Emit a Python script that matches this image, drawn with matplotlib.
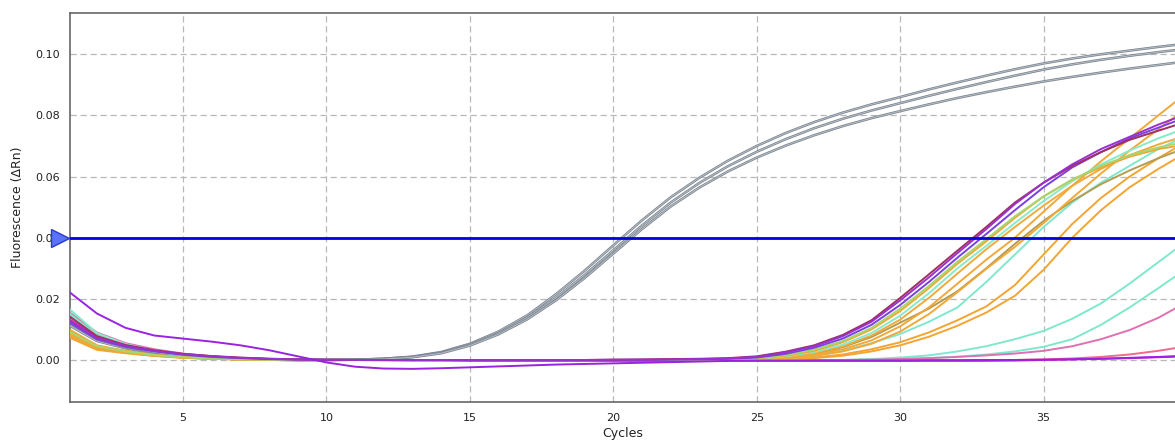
import numpy as np
import matplotlib
matplotlib.use("Agg")
import matplotlib.pyplot as plt
import matplotlib.transforms as mtransforms

# cycle numbers
cycles = np.arange(1, 41)

# grey (early) amplification curves
grey_a = [0.0115, 0.0062, 0.0038, 0.0022, 0.0012, 0.0006, 0.0003, 0.0001, 0.0, 0.0,
          0.0001, 0.0004, 0.0011, 0.0026, 0.0053, 0.0093, 0.0146, 0.0215, 0.0292, 0.0375,
          0.0457, 0.0532, 0.0596, 0.0652, 0.0700, 0.0742, 0.0778, 0.0809, 0.0836, 0.0860,
          0.0885, 0.0908, 0.0930, 0.0951, 0.0970, 0.0986, 0.1000, 0.1012, 0.1024, 0.1035]
grey_b = [0.0125, 0.0068, 0.0041, 0.0024, 0.0013, 0.0007, 0.0003, 0.0001, 0.0, 0.0,
          0.0001, 0.0004, 0.0010, 0.0024, 0.0050, 0.0088, 0.0139, 0.0203, 0.0278, 0.0359,
          0.0440, 0.0515, 0.0579, 0.0634, 0.0681, 0.0722, 0.0758, 0.0789, 0.0816, 0.0840,
          0.0864, 0.0887, 0.0909, 0.0930, 0.0950, 0.0967, 0.0982, 0.0995, 0.1007, 0.1018]
grey_c = [0.0135, 0.0072, 0.0044, 0.0026, 0.0014, 0.0007, 0.0003, 0.0001, 0.0, 0.0,
          0.0001, 0.0003, 0.0009, 0.0022, 0.0047, 0.0084, 0.0133, 0.0195, 0.0268, 0.0348,
          0.0428, 0.0502, 0.0564, 0.0617, 0.0662, 0.0701, 0.0735, 0.0765, 0.0791, 0.0814,
          0.0836, 0.0857, 0.0876, 0.0894, 0.0911, 0.0926, 0.0940, 0.0953, 0.0965, 0.0977]

# late curves
purple_1 = [0.0130, 0.0072, 0.0046, 0.0030, 0.0019, 0.0012, 0.0007, 0.0004, 0.0002, 0.0001,
            0.0, 0.0, 0.0, 0.0, 0.0, 0.0, 0.0, 0.0, 0.0, 0.0001,
            0.0001, 0.0002, 0.0003, 0.0005, 0.0010, 0.0025, 0.0045, 0.0078, 0.0125, 0.0195,
            0.0270, 0.0350, 0.0428, 0.0510, 0.0580, 0.0640, 0.0690, 0.0730, 0.0770, 0.0805]
maroon_1 = [0.0145, 0.0078, 0.0049, 0.0032, 0.0020, 0.0013, 0.0008, 0.0004, 0.0002, 0.0001,
            0.0, 0.0, 0.0, 0.0, 0.0, 0.0, 0.0, 0.0, 0.0, 0.0001,
            0.0002, 0.0003, 0.0004, 0.0006, 0.0012, 0.0027, 0.0048, 0.0082, 0.0130, 0.0203,
            0.0280, 0.0358, 0.0435, 0.0515, 0.0580, 0.0635, 0.0680, 0.0720, 0.0750, 0.0780]
violet_1 = [0.0125, 0.0068, 0.0043, 0.0028, 0.0017, 0.0010, 0.0006, 0.0003, 0.0001, 0.0,
            0.0, 0.0, 0.0, 0.0, 0.0, 0.0, 0.0, 0.0, 0.0, 0.0,
            0.0, 0.0001, 0.0002, 0.0004, 0.0008, 0.0020, 0.0040, 0.0070, 0.0115, 0.0180,
            0.0255, 0.0335, 0.0412, 0.0490, 0.0565, 0.0630, 0.0680, 0.0725, 0.0760, 0.0795]
green_1 = [0.0095, 0.0045, 0.0028, 0.0016, 0.0009, 0.0005, 0.0002, 0.0001, 0.0, 0.0,
           0.0, 0.0, 0.0, 0.0, 0.0, 0.0, 0.0, 0.0, 0.0, 0.0,
           0.0, 0.0, 0.0001, 0.0002, 0.0006, 0.0016, 0.0034, 0.0062, 0.0105, 0.0168,
           0.0242, 0.0322, 0.0395, 0.0470, 0.0535, 0.0590, 0.0635, 0.0670, 0.0695, 0.0715]
orange_1 = [0.0080, 0.0036, 0.0024, 0.0014, 0.0008, 0.0004, 0.0002, 0.0001, 0.0, 0.0,
            0.0, 0.0, 0.0, 0.0, 0.0, 0.0, 0.0, 0.0, 0.0, 0.0,
            0.0, 0.0, 0.0001, 0.0002, 0.0005, 0.0014, 0.0030, 0.0058, 0.0100, 0.0160,
            0.0235, 0.0315, 0.0388, 0.0465, 0.0535, 0.0590, 0.0630, 0.0665, 0.0690, 0.0705]
aqua_1 = [0.0170, 0.0088, 0.0052, 0.0031, 0.0018, 0.0010, 0.0005, 0.0002, 0.0001, 0.0,
          0.0, 0.0, 0.0, 0.0, 0.0, 0.0, 0.0, 0.0, 0.0, 0.0,
          0.0, 0.0, 0.0001, 0.0002, 0.0004, 0.0012, 0.0026, 0.0050, 0.0088, 0.0145,
          0.0218, 0.0300, 0.0373, 0.0448, 0.0520, 0.0585, 0.0640, 0.0685, 0.0725, 0.0760]
orange_2 = [0.0088, 0.0040, 0.0026, 0.0015, 0.0008, 0.0004, 0.0002, 0.0001, 0.0, 0.0,
            0.0, 0.0, 0.0, 0.0, 0.0, 0.0, 0.0, 0.0, 0.0, 0.0,
            0.0, 0.0, 0.0, 0.0001, 0.0003, 0.0010, 0.0023, 0.0045, 0.0080, 0.0132,
            0.0203, 0.0283, 0.0362, 0.0435, 0.0505, 0.0570, 0.0625, 0.0670, 0.0705, 0.0735]
orange_3 = [0.0075, 0.0033, 0.0022, 0.0013, 0.0007, 0.0004, 0.0002, 0.0001, 0.0, 0.0,
            0.0, 0.0, 0.0, 0.0, 0.0, 0.0, 0.0, 0.0, 0.0, 0.0,
            0.0, 0.0, 0.0, 0.0001, 0.0002, 0.0007, 0.0017, 0.0035, 0.0064, 0.0110,
            0.0172, 0.0250, 0.0328, 0.0400, 0.0485, 0.0570, 0.0650, 0.0725, 0.0800, 0.0875]
orange_4 = [0.0102, 0.0048, 0.0030, 0.0017, 0.0009, 0.0005, 0.0002, 0.0001, 0.0, 0.0,
            0.0, 0.0, 0.0, 0.0, 0.0, 0.0, 0.0, 0.0, 0.0, 0.0,
            0.0, 0.0, 0.0, 0.0, 0.0001, 0.0005, 0.0013, 0.0028, 0.0053, 0.0093,
            0.0150, 0.0222, 0.0298, 0.0370, 0.0448, 0.0530, 0.0610, 0.0685, 0.0755, 0.0825]
olive_1 = [0.0098, 0.0046, 0.0029, 0.0017, 0.0009, 0.0005, 0.0002, 0.0001, 0.0, 0.0,
           0.0, 0.0, 0.0, 0.0, 0.0, 0.0, 0.0, 0.0, 0.0, 0.0,
           0.0, 0.0, 0.0, 0.0001, 0.0003, 0.0009, 0.0020, 0.0042, 0.0075, 0.0122,
           0.0168, 0.0225, 0.0300, 0.0380, 0.0455, 0.0520, 0.0575, 0.0620, 0.0660, 0.0695]
aqua_2 = [0.0155, 0.0080, 0.0048, 0.0029, 0.0017, 0.0009, 0.0004, 0.0002, 0.0001, 0.0,
          0.0, 0.0, 0.0, 0.0, 0.0, 0.0, 0.0, 0.0, 0.0, 0.0,
          0.0, 0.0, 0.0, 0.0, 0.0001, 0.0005, 0.0013, 0.0030, 0.0055, 0.0085,
          0.0125, 0.0172, 0.0255, 0.0345, 0.0435, 0.0515, 0.0580, 0.0635, 0.0690, 0.0735]
orange_5 = [0.0090, 0.0041, 0.0026, 0.0015, 0.0008, 0.0004, 0.0002, 0.0001, 0.0, 0.0,
            0.0, 0.0, 0.0, 0.0, 0.0, 0.0, 0.0, 0.0, 0.0, 0.0,
            0.0, 0.0, 0.0, 0.0, 0.0, 0.0003, 0.0008, 0.0018, 0.0035, 0.0058,
            0.0090, 0.0130, 0.0175, 0.0245, 0.0345, 0.0445, 0.0530, 0.0600, 0.0660, 0.0715]
orange_6 = [0.0082, 0.0037, 0.0024, 0.0014, 0.0008, 0.0004, 0.0002, 0.0001, 0.0, 0.0,
            0.0, 0.0, 0.0, 0.0, 0.0, 0.0, 0.0, 0.0, 0.0, 0.0,
            0.0, 0.0, 0.0, 0.0, 0.0, 0.0002, 0.0006, 0.0014, 0.0028, 0.0048,
            0.0076, 0.0112, 0.0155, 0.0210, 0.0295, 0.0400, 0.0490, 0.0565, 0.0625, 0.0680]
aqua_late_1 = [0.0160, 0.0084, 0.0050, 0.0030, 0.0017, 0.0009, 0.0004, 0.0002, 0.0001, 0.0,
               0.0, 0.0, 0.0, 0.0, 0.0, 0.0, 0.0, 0.0, 0.0, 0.0,
               0.0, 0.0, 0.0, 0.0, 0.0, 0.0, 0.0, 0.0, 0.0003, 0.0008,
               0.0015, 0.0028, 0.0045, 0.0068, 0.0095, 0.0135, 0.0185, 0.0250, 0.0320, 0.0390]
aqua_late_2 = [0.0148, 0.0077, 0.0046, 0.0028, 0.0016, 0.0009, 0.0004, 0.0002, 0.0001, 0.0,
               0.0, 0.0, 0.0, 0.0, 0.0, 0.0, 0.0, 0.0, 0.0, 0.0,
               0.0, 0.0, 0.0, 0.0, 0.0, 0.0, 0.0, 0.0, 0.0001, 0.0003,
               0.0006, 0.0011, 0.0018, 0.0028, 0.0043, 0.0068, 0.0115, 0.0172, 0.0235, 0.0300]
pink_1 = [0.0158, 0.0090, 0.0055, 0.0035, 0.0021, 0.0012, 0.0006, 0.0003, 0.0001, 0.0,
          0.0, 0.0, 0.0, 0.0, 0.0, 0.0, 0.0, 0.0, 0.0, 0.0,
          0.0, 0.0, 0.0, 0.0, 0.0, 0.0, 0.0, 0.0, 0.0001, 0.0003,
          0.0006, 0.0010, 0.0015, 0.0021, 0.0030, 0.0045, 0.0068, 0.0098, 0.0138, 0.0190]
pink_2 = [0.0150, 0.0085, 0.0052, 0.0033, 0.0020, 0.0011, 0.0006, 0.0003, 0.0001, 0.0,
          0.0, 0.0, 0.0, 0.0, 0.0, 0.0, 0.0, 0.0, 0.0, 0.0,
          0.0, 0.0, 0.0, 0.0, 0.0, 0.0, 0.0, 0.0, 0.0, 0.0,
          0.0, 0.0, 0.0, 0.0, 0.0002, 0.0005, 0.0010, 0.0018, 0.0030, 0.0045]
magenta_1 = [0.0135, 0.0075, 0.0047, 0.0030, 0.0019, 0.0011, 0.0006, 0.0003, 0.0001, 0.0,
             0.0, -0.0001, -0.0002, -0.0002, -0.0003, -0.0003, -0.0003, -0.0003, -0.0003, -0.0003,
             -0.0003, -0.0003, -0.0003, -0.0003, -0.0003, -0.0003, -0.0003, -0.0003, -0.0003, -0.0003,
             -0.0003, -0.0003, -0.0003, -0.0002, 0.0, 0.0002, 0.0004, 0.0006, 0.0009, 0.0012]
purple_high = [0.0225, 0.0152, 0.0105, 0.0080, 0.0070, 0.0060, 0.0048, 0.0032, 0.0012, -0.0008,
               -0.0022, -0.0028, -0.0029, -0.0027, -0.0024, -0.0021, -0.0018, -0.0015, -0.0013, -0.0011,
               -0.0009, -0.0007, -0.0005, -0.0003, -0.0002, -0.0002, -0.0002, -0.0002, -0.0002, -0.0002,
               -0.0001, -0.0001, 0.0, 0.0, 0.0001, 0.0002, 0.0004, 0.0007, 0.0010, 0.0014]

threshold = 0.04

grey_curves = [grey_a, grey_b, grey_c]
colour_curves = [
    (aqua_late_1, '#7fe8cc'), (aqua_late_2, '#7fe8cc'),
    (pink_1, '#e070b4'), (pink_2, '#f06a8c'), (magenta_1, '#d424d0'),
    (orange_6, '#f2a530'), (orange_5, '#f2a530'), (aqua_2, '#7fe8cc'),
    (olive_1, '#b49c52'), (orange_4, '#f2a838'), (orange_3, '#f2a838'),
    (orange_2, '#f0aa3c'), (aqua_1, '#86eacb'), (orange_1, '#f0a636'),
    (green_1, '#a4d86e'), (violet_1, '#7a40e0'), (maroon_1, '#a0305e'),
    (purple_1, '#9a30d0'), (purple_high, '#9a22e0'),
]

fig = plt.figure(figsize=(11.75, 4.44), dpi=100)
ax = fig.add_axes([0.0593, 0.0953, 0.9407, 0.8748])

for g in grey_curves:
    ax.plot(cycles, g, color='#77818b', lw=1.8, zorder=3)
    ax.plot(cycles, g, color='#b2bac2', lw=0.8, zorder=3)

for vals, col in colour_curves:
    ax.plot(cycles, vals, color=col, lw=1.4, zorder=3)

ax.axhline(threshold, color='#0000e0', lw=2.0, zorder=4)
trans = mtransforms.blended_transform_factory(ax.transAxes, ax.transData)
ax.plot([-0.0088], [threshold], marker='>', ms=13, color='#5a73f8',
        markeredgecolor='#2a3ad0', transform=trans, clip_on=False, zorder=6)

ax.set_xlim(1.05, 39.58)
ax.set_ylim(-0.01364, 0.1134)
ax.set_xticks([5, 10, 15, 20, 25, 30, 35])
ax.set_yticks([0.0, 0.02, 0.04, 0.06, 0.08, 0.10])
ax.set_yticklabels(['0.00', '0.02', '0.04', '0.06', '0.08', '0.10'])
ax.grid(True, color='#b8b8b8', linestyle=(0, (5, 3)), lw=0.9)
ax.set_axisbelow(True)
ax.tick_params(length=0, labelsize=8, colors='#222222', pad=7)
ax.tick_params(axis='x', pad=8)

for side in ['left', 'bottom', 'top']:
    ax.spines[side].set_color('#666666')
    ax.spines[side].set_linewidth(1.2)
ax.spines['right'].set_visible(False)

ax.set_xlabel('Cycles', fontsize=9, color='#222222', labelpad=3)
ax.set_ylabel('Fluorescence (ΔRn)', fontsize=9, color='#222222', labelpad=8)

fig.savefig('out.png', dpi=100)
